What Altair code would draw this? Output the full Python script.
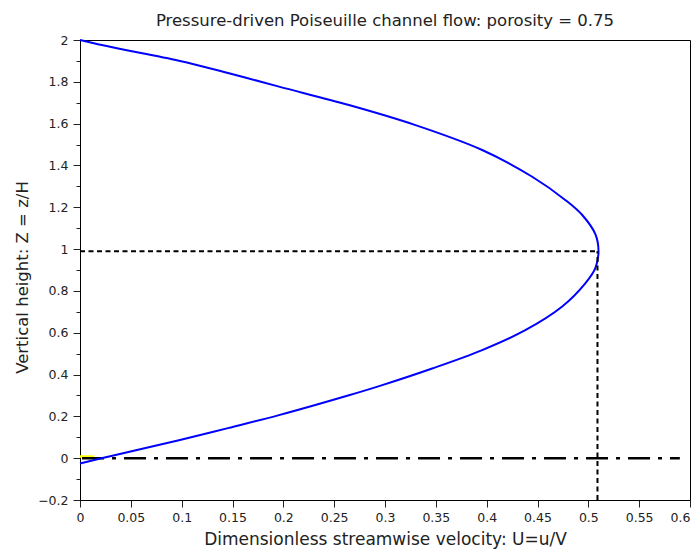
import altair as alt
import pandas as pd

# Velocity profile (U = streamwise velocity, Z = height)
profile_U = [0.0, 0.0318, 0.0973, 0.1465, 0.1957, 0.2645, 0.295, 0.3464, 0.3956, 0.438,
             0.474, 0.497, 0.507, 0.510, 0.507, 0.494, 0.4776, 0.4448, 0.3956, 0.330,
             0.2645, 0.1957, 0.1465, 0.0973, 0.0318, 0.0]
profile_Z = [-0.025, 0.012, 0.086, 0.145, 0.206, 0.301, 0.346, 0.429, 0.517, 0.612,
             0.724, 0.836, 0.91, 0.99, 1.07, 1.163, 1.234, 1.346, 1.474, 1.593,
             1.689, 1.777, 1.841, 1.901, 1.965, 2.0]

# Reference lines
peak_U = 0.509
peak_Z = 0.99
hline_U = [0.0, peak_U]
hline_Z = [peak_Z, peak_Z]
vline_U = [peak_U, peak_U]
vline_Z = [-0.2, peak_Z]
wall_U = [0.002, 0.59]
wall_Z = [0.0, 0.0]
yellow_U = [0.0, 0.014]
yellow_Z = [0.008, 0.008]

x_ticks = [0, 0.05, 0.1, 0.15, 0.2, 0.25, 0.3, 0.35, 0.4, 0.45, 0.5, 0.55, 0.6]
y_ticks = [-0.2, -0.1, 0, 0.1, 0.2, 0.3, 0.4, 0.5, 0.6, 0.7, 0.8, 0.9, 1.0,
           1.1, 1.2, 1.3, 1.4, 1.5, 1.6, 1.7, 1.8, 1.9, 2.0]

FONT = "DejaVu Sans"
TXT = "#222222"

prof = pd.DataFrame({"U": profile_U, "Z": profile_Z, "i": list(range(len(profile_U)))})
hl = pd.DataFrame({"U": hline_U, "Z": hline_Z, "i": [0, 1]})
vl = pd.DataFrame({"U": vline_U, "Z": vline_Z, "i": [0, 1]})
wl = pd.DataFrame({"U": wall_U, "Z": wall_Z, "i": [0, 1]})
yl = pd.DataFrame({"U": yellow_U, "Z": yellow_Z, "i": [0, 1]})

xscale = alt.Scale(domain=[0, 0.6], nice=False, zero=False)
yscale = alt.Scale(domain=[-0.2, 2.0], nice=False, zero=False)

xaxis = alt.Axis(
    values=x_ticks, format="~g", title="Dimensionless streamwise velocity: U=u/V",
    grid=False, tickSize=7, tickColor="#222222", domainColor="#000000",
    labelFont=FONT, labelFontSize=12.5, labelColor=TXT, labelPadding=4,
    labelAlign={"condition": {"test": "datum.value >= 0.59", "value": "right"}, "value": "center"},
    titleFont=FONT, titleFontSize=17, titleFontWeight="normal", titleColor=TXT,
    titlePadding=8, labelFlush=False,
)
yaxis = alt.Axis(
    values=y_ticks, title="Vertical height: Z = z/H", grid=False,
    labelExpr="abs(round(datum.value*10)) % 2 == 0 ? format(datum.value, '~g') : ''",
    tickSize={"condition": {"test": "abs(round(datum.value*10)) % 2 == 0", "value": 7}, "value": 4},
    tickColor="#222222", domainColor="#000000",
    labelFont=FONT, labelFontSize=12.5, labelColor=TXT, labelPadding=5,
    titleFont=FONT, titleFontSize=16.5, titleFontWeight="normal", titleColor=TXT,
    titlePadding=7, titleY=237, labelFlush=False,
)

def enc(ch):
    return ch.encode(
        x=alt.X("U:Q", scale=xscale, axis=xaxis),
        y=alt.Y("Z:Q", scale=yscale, axis=yaxis),
        order=alt.Order("i:Q"),
    )

yellow = enc(alt.Chart(yl).mark_line(color="#ffff00", strokeWidth=2.5))
wall = enc(alt.Chart(wl).mark_line(color="#000000", strokeWidth=2.5, strokeDash=[22, 8, 4, 8]))
curve = enc(alt.Chart(prof).mark_line(color="#0000ff", strokeWidth=2, interpolate="catmull-rom"))
hline = enc(alt.Chart(hl).mark_line(color="#000000", strokeWidth=2, strokeDash=[5, 3.5]))
vline = enc(alt.Chart(vl).mark_line(color="#000000", strokeWidth=2, strokeDash=[5, 3.5]))

chart = alt.layer(yellow, wall, curve, hline, vline).properties(
    width=610,
    height=460,
    autosize=alt.AutoSizeParams(type="none"),
    padding={"left": 72, "top": 32, "right": 1, "bottom": 51},
    view=alt.ViewBackground(stroke="#000000", strokeWidth=1),
    title=alt.TitleParams(
        "Pressure-driven Poiseuille channel flow: porosity = 0.75",
        font=FONT, fontSize=16.5, fontWeight="normal", color=TXT, anchor="middle", offset=5,
    ),
).configure(background="white").configure_view(stroke="#000000", strokeWidth=1)

chart.save("out.html", embed_options={"renderer": "svg", "actions": False})
